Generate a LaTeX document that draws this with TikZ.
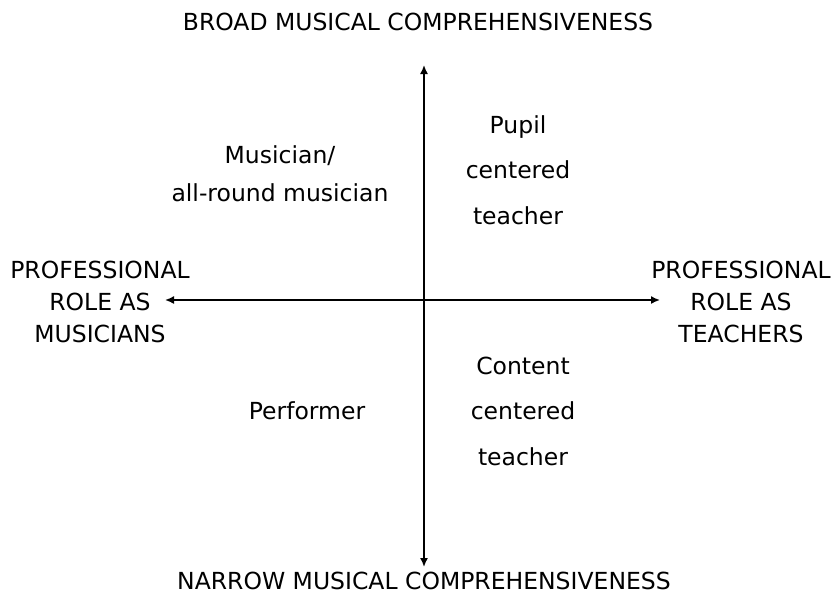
\documentclass[tikz,border=0pt]{standalone}
\usepackage{fontspec}
\setmainfont{DejaVu Sans}
\usetikzlibrary{arrows.meta, positioning}

\begin{document}
\begin{tikzpicture}[x=1pt, y=-1pt,
  every node/.style={font=\fontsize{23.5}{32}\selectfont, align=center, inner sep=0pt},
  quad/.style={font=\fontsize{23.5}{45.5}\selectfont},
  axis/.style={line width=1.6pt, {Latex[length=9pt,width=8pt]}-{Latex[length=9pt,width=8pt]}}]

\useasboundingbox (0,0) rectangle (836,603);

\coordinate (N) at (424,65);
\coordinate (S) at (424,567);
\coordinate (W) at (165,300);
\coordinate (E) at (660,300);

\node (broad) at (418,22) {BROAD MUSICAL COMPREHENSIVENESS};
\node (narrow) at (424,581) {NARROW MUSICAL COMPREHENSIVENESS};
\node (musicians) at (100,302) {PROFESSIONAL\\ROLE AS\\MUSICIANS};
\node (teachers) at (741,302) {PROFESSIONAL\\ROLE AS\\TEACHERS};

\node (allround) [font=\fontsize{23.5}{38}\selectfont] at (280,174) {Musician/\\all-round musician};
\node (pupil) [quad] at (518,170) {Pupil\\centered\\teacher};
\node (performer) at (307,411) {Performer};
\node (content) [quad] at (523,411) {Content\\centered\\teacher};

%axes:
\path [axis]
(S) edge (N)
(W) edge (E)
;

\end{tikzpicture}
\end{document}
